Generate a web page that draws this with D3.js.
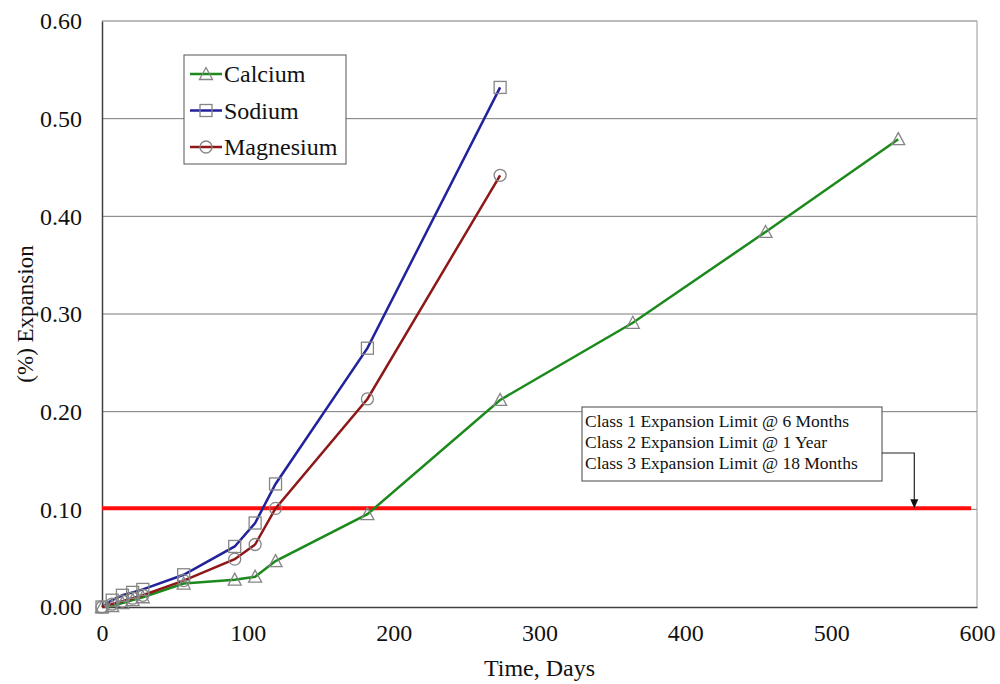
<!DOCTYPE html>
<html>
<head>
<meta charset="utf-8">
<script src="https://cdn.jsdelivr.net/npm/d3@7.9.0/dist/d3.min.js"></script>
<style>
  html, body { margin: 0; padding: 0; background: #fff; }
  svg { display: block; }
  svg text { font-family: "Liberation Serif", "DejaVu Serif", serif !important; }
</style>
</head>
<body>
<svg id="chart" width="1000" height="684"></svg>
<script>
// data
const calciumDays = [0, 7, 14, 21, 28, 56, 91, 105, 119, 182, 273, 364, 455, 546];
const calciumExp = [0.000, 0.001, 0.004, 0.007, 0.010, 0.024, 0.028, 0.031, 0.047, 0.095, 0.212, 0.291, 0.384, 0.479];
const sodiumDays = [0, 7, 14, 21, 28, 56, 91, 105, 119, 182, 273];
const sodiumExp = [0.000, 0.007, 0.012, 0.015, 0.018, 0.033, 0.062, 0.086, 0.126, 0.265, 0.532];
const magnesiumDays = [0, 7, 14, 21, 28, 56, 91, 105, 119, 182, 273];
const magnesiumExp = [0.000, 0.003, 0.006, 0.009, 0.012, 0.027, 0.049, 0.064, 0.101, 0.213, 0.442];
const xTicks = [0, 100, 200, 300, 400, 500, 600];
const yTicks = [0, 0.1, 0.2, 0.3, 0.4, 0.5, 0.6];
const limitValue = 0.101;
const limitText = ["Class 1 Expansion Limit @ 6 Months", "Class 2 Expansion Limit @ 1 Year", "Class 3 Expansion Limit @ 18 Months"];

const series = [
  { name: "Calcium", days: calciumDays, vals: calciumExp, color: "#1b8a1b", marker: "triangle" },
  { name: "Sodium", days: sodiumDays, vals: sodiumExp, color: "#22229c", marker: "square" },
  { name: "Magnesium", days: magnesiumDays, vals: magnesiumExp, color: "#8e1818", marker: "circle" }
];

const svg = d3.select("#chart");
const plotLeft = 102, plotRight = 977, plotTop = 21, plotBottom = 607;

const x = d3.scaleLinear().domain([0, 600]).range([plotLeft, plotRight]);
const y = d3.scaleLinear().domain([0, 0.6]).range([plotBottom, plotTop]);

// gridlines
svg.append("g")
  .selectAll("line")
  .data(yTicks.filter(d => d > 0))
  .join("line")
  .attr("x1", plotLeft).attr("x2", plotRight)
  .attr("y1", d => y(d)).attr("y2", d => y(d))
  .attr("stroke", "#7a7a7a").attr("stroke-width", 1);

// frame: right border
svg.append("line").attr("x1", plotRight).attr("x2", plotRight).attr("y1", plotTop).attr("y2", plotBottom)
  .attr("stroke", "#9a9a9a").attr("stroke-width", 1);

// axes
const xAxis = svg.append("g").attr("transform", `translate(0,${plotBottom})`)
  .call(d3.axisBottom(x).tickValues(xTicks).tickSize(0).tickPadding(17).tickFormat(d3.format("d")));
const yAxis = svg.append("g").attr("transform", `translate(${plotLeft},0)`)
  .call(d3.axisLeft(y).tickValues(yTicks).tickSize(0).tickPadding(20).tickFormat(d3.format(".2f")));
[xAxis, yAxis].forEach(a => {
  a.attr("font-family", null);
  a.select(".domain").attr("stroke", "#404040").attr("stroke-width", 1.5);
  a.selectAll("text").attr("font-size", 24).attr("fill", "#111");
});

// limit line
svg.append("line")
  .attr("x1", x(0)).attr("x2", x(596))
  .attr("y1", y(limitValue)).attr("y2", y(limitValue))
  .attr("stroke", "#ff0d0d").attr("stroke-width", 4);

// series
const line = d3.line().x(d => x(d[0])).y(d => y(d[1]));

function drawMarker(g, type, cx, cy) {
  const stroke = "#858585";
  if (type === "square") {
    g.append("rect").attr("x", cx - 6).attr("y", cy - 6).attr("width", 12).attr("height", 12)
      .attr("fill", "none").attr("stroke", stroke).attr("stroke-width", 1.3);
  } else if (type === "circle") {
    g.append("circle").attr("cx", cx).attr("cy", cy).attr("r", 6)
      .attr("fill", "none").attr("stroke", stroke).attr("stroke-width", 1.3);
  } else {
    g.append("path").attr("d", `M${cx},${cy - 6.5}L${cx + 6.5},${cy + 5.5}L${cx - 6.5},${cy + 5.5}Z`)
      .attr("fill", "none").attr("stroke", stroke).attr("stroke-width", 1.3);
  }
}

series.forEach(s => {
  const pts = s.days.map((d, i) => [d, s.vals[i]]);
  svg.append("path").attr("d", line(pts)).attr("fill", "none")
    .attr("stroke", s.color).attr("stroke-width", 2.5);
});
series.forEach(s => {
  const g = svg.append("g");
  s.days.forEach((d, i) => drawMarker(g, s.marker, x(d), y(s.vals[i])));
});

// legend
const legend = svg.append("g");
legend.append("rect").attr("x", 184).attr("y", 55).attr("width", 162).attr("height", 109)
  .attr("fill", "#fff").attr("stroke", "#555").attr("stroke-width", 1);
series.forEach((s, i) => {
  const ly = 74 + i * 36.5;
  legend.append("line").attr("x1", 190).attr("x2", 222).attr("y1", ly).attr("y2", ly)
    .attr("stroke", s.color).attr("stroke-width", 2.5);
  drawMarker(legend, s.marker, 206, ly);
  legend.append("text").attr("x", 224).attr("y", ly).attr("dy", "0.35em")
    .attr("font-size", 24).attr("fill", "#111").text(s.name);
});

// annotation box with arrow
const ann = svg.append("g");
ann.append("rect").attr("x", 582).attr("y", 407).attr("width", 300).attr("height", 74)
  .attr("fill", "#fff").attr("stroke", "#444").attr("stroke-width", 1);
limitText.forEach((t, i) => {
  ann.append("text").attr("x", 585).attr("y", 427 + i * 21)
    .attr("font-size", 17.5).attr("fill", "#111").text(t);
});
const arrowX = x(557);
ann.append("path").attr("d", `M882,453H${arrowX}V${y(limitValue) - 8}`)
  .attr("fill", "none").attr("stroke", "#222").attr("stroke-width", 1.2);
ann.append("path")
  .attr("d", `M${arrowX - 4},${y(limitValue) - 9}L${arrowX + 4},${y(limitValue) - 9}L${arrowX},${y(limitValue)}Z`)
  .attr("fill", "#111");

// axis titles
svg.append("text").attr("x", (plotLeft + plotRight) / 2).attr("y", 676).attr("text-anchor", "middle")
  .attr("font-size", 24).attr("fill", "#111").text("Time, Days");
svg.append("text").attr("transform", `translate(33,314) rotate(-90)`)
  .attr("text-anchor", "middle").attr("font-size", 23).attr("fill", "#111").text("(%) Expansion");
</script>
</body>
</html>
